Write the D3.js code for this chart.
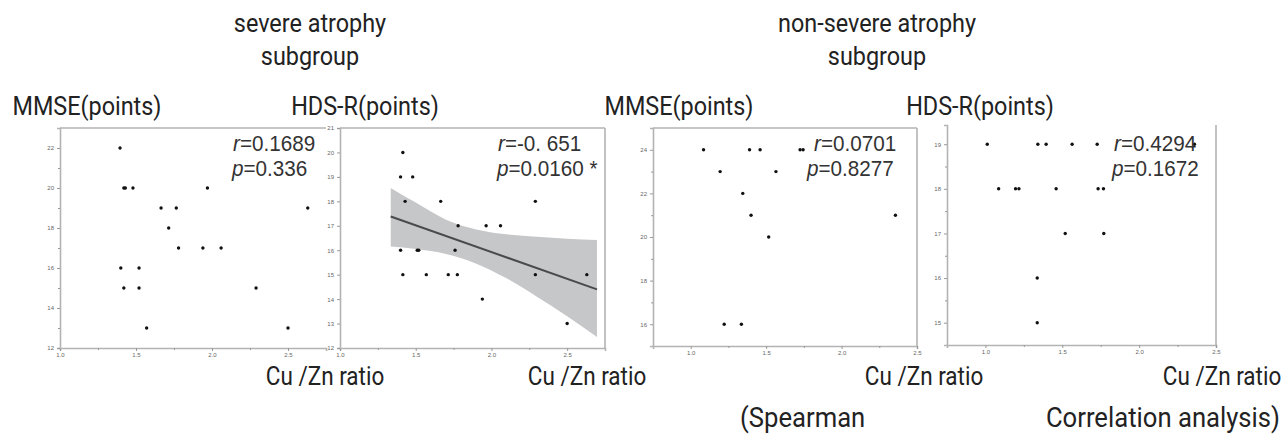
<!DOCTYPE html>
<html>
<head>
<meta charset="utf-8">
<script src="https://cdn.jsdelivr.net/npm/d3@7"></script>
<style>
  html, body { margin: 0; padding: 0; background: #fff; }
  svg { display: block; }
</style>
</head>
<body>
<svg id="chart" width="1287" height="442"></svg>
<script>
// ---------------- DATA ----------------
// Panel 1: severe atrophy, MMSE vs Cu/Zn
const sevMmseX = [1.395, 1.42, 1.43, 1.48, 1.97, 1.665, 1.765, 1.715, 1.78, 1.94, 2.06, 1.40, 1.52, 1.42, 1.52, 2.29, 2.63, 1.57, 2.50];
const sevMmseY = [22, 20, 20, 20, 20, 19, 19, 18, 17, 17, 17, 16, 16, 15, 15, 15, 19, 13, 13];
// Panel 2: severe atrophy, HDS-R vs Cu/Zn
const sevHdsX = [1.415, 1.40, 1.48, 1.43, 1.665, 2.29, 1.78, 1.965, 2.06, 1.40, 1.51, 1.52, 1.76, 1.415, 1.57, 1.715, 1.775, 2.29, 2.63, 1.94, 2.50];
const sevHdsY = [20, 19, 19, 18, 18, 18, 17, 17, 17, 16, 16, 16, 16, 15, 15, 15, 15, 15, 15, 14, 13];
// Regression line and confidence band (panel 2)
const fitX = [1.335, 2.697];
const fitY = [17.38, 14.40];
const bandX = [1.335, 1.5, 1.7, 1.9, 2.1, 2.3, 2.5, 2.697];
const bandUpper = [18.55, 17.95, 17.25, 16.85, 16.65, 16.55, 16.47, 16.42];
const bandLower = [16.15, 16.05, 15.85, 15.45, 14.85, 14.10, 13.30, 12.45];
// Panel 3: non-severe atrophy, MMSE vs Cu/Zn
const nonMmseX = [1.085, 1.39, 1.46, 1.725, 1.745, 1.195, 1.565, 1.345, 1.40, 2.357, 1.517, 1.222, 1.336];
const nonMmseY = [24, 24, 24, 24, 24, 23, 23, 22, 21, 21, 20, 16, 16];
// Panel 4: non-severe atrophy, HDS-R vs Cu/Zn
const nonHdsX = [1.012, 1.341, 1.395, 1.564, 1.727, 2.36, 1.086, 1.196, 1.218, 1.46, 1.733, 1.768, 1.519, 1.77, 1.337, 1.337];
const nonHdsY = [19, 19, 19, 19, 19, 19, 18, 18, 18, 18, 18, 18, 17, 17, 16, 15];

// Tick values / labels
const xTicks = [1.0, 1.5, 2.0, 2.5];
const xTickLabels = ["1.0", "1.5", "2.0", "2.5"];
const p1YTicks = [12, 14, 16, 18, 20, 22];
const p2YTicks = [12, 13, 14, 15, 16, 17, 18, 19, 20, 21];
const p3YTicks = [16, 18, 20, 22, 24];
const p4YTicks = [15, 16, 17, 18, 19];

// Texts
const groupTitles = [["severe atrophy", "subgroup"], ["non-severe atrophy", "subgroup"]];
const yTitles = ["MMSE(points)", "HDS-R(points)", "MMSE(points)", "HDS-R(points)"];
const xTitle = "Cu /Zn ratio";
const rValues = ["=0.1689", "=-0. 651", "=0.0701", "=0.4294"];
const pValues = ["=0.336", "=0.0160 *", "=0.8277", "=0.1672"];
const footnoteParts = ["(Spearman", "Correlation analysis)"];

// ---------------- LAYOUT ----------------
const svg = d3.select("#chart");
const FONT = "Roboto, 'Noto Sans', sans-serif";
const STATFONT = "'Liberation Sans', Arial, sans-serif";
const frameColor = "#b3b3b3";
const SX = 0.9; // horizontal condensing of large labels

function label(parent, x, y, anchor, size, sx, str, color, family) {
  const g = parent.append("g").attr("transform", `translate(${x},${y}) scale(${sx},1)`);
  return g.append("text").attr("x", 0).attr("y", 0).attr("text-anchor", anchor)
    .style("font-family", family || FONT).style("font-size", size + "px").style("white-space", "pre")
    .attr("fill", color || "#222").text(str);
}

const panels = [
  { xs: sevMmseX, ys: sevMmseY, xd: [1.0, 2.75], xr: [60, 326], yd: [12, 23], yr: [348, 128],
    yt: p1YTicks, yMinor: [13, 15, 17, 19, 21], xMinor: [1.25, 1.75, 2.25], sides: ["top"],
    statX: [233, 232], titleX: 87, xTitleX: 325 },
  { xs: sevHdsX, ys: sevHdsY, xd: [1.0, 2.75], xr: [340, 605], yd: [12, 21], yr: [348, 128],
    yt: p2YTicks, yMinor: [], xMinor: [1.25, 1.75, 2.25], sides: ["top", "right"],
    statX: [498, 497], titleX: 365, xTitleX: 587, fit: true },
  { xs: nonMmseX, ys: nonMmseY, xd: [0.75, 2.5], xr: [653, 917], yd: [15, 25], yr: [346, 128],
    yt: p3YTicks, yMinor: [17, 19, 21, 23], xMinor: [1.25, 1.75, 2.25], sides: ["top", "right"],
    statX: [814, 807], titleX: 679, xTitleX: 924 },
  { xs: nonHdsX, ys: nonHdsY, xd: [0.75, 2.5], xr: [947, 1216], yd: [14.5, 19.43], yr: [345, 125],
    yt: p4YTicks, yMinor: [15.5, 16.5, 17.5, 18.5], xMinor: [1.25, 1.75, 2.25], sides: ["right"],
    statX: [1114, 1112], titleX: 980, xTitleX: 1222 }
];

panels.forEach((p, i) => {
  const x = d3.scaleLinear().domain(p.xd).range(p.xr);
  const y = d3.scaleLinear().domain(p.yd).range(p.yr);
  const g = svg.append("g");

  if (p.fit) {
    const band = bandX.map((v, k) => ({ x: v, u: bandUpper[k], l: bandLower[k] }));
    const area = d3.area().x(d => x(d.x)).y0(d => y(d.l)).y1(d => y(d.u)).curve(d3.curveMonotoneX);
    g.append("path").datum(band).attr("d", area).attr("fill", "#c6c7c9");
    const line = d3.line().x(d => x(d[0])).y(d => y(d[1]));
    g.append("path").datum(fitX.map((v, k) => [v, fitY[k]])).attr("d", line)
      .attr("fill", "none").attr("stroke", "#4a4a4a").attr("stroke-width", 2);
  }

  const [x0, x1] = p.xr, [y0, y1] = p.yr;
  if (p.sides.includes("top"))
    g.append("line").attr("x1", x0).attr("x2", x1).attr("y1", y1).attr("y2", y1)
      .attr("stroke", frameColor).attr("stroke-width", 1.6);
  if (p.sides.includes("right"))
    g.append("line").attr("x1", x1).attr("x2", x1).attr("y1", y1).attr("y2", y0)
      .attr("stroke", frameColor).attr("stroke-width", 1.6);

  const xAxis = d3.axisBottom(x).tickValues(xTicks).tickFormat((d, k) => xTickLabels[k]).tickSize(3).tickPadding(2);
  const gx = g.append("g").attr("transform", `translate(0,${y0})`).call(xAxis);
  const gxm = g.append("g").attr("transform", `translate(0,${y0})`)
    .call(d3.axisBottom(x).tickValues(p.xMinor).tickFormat("").tickSize(2));
  const yAxis = d3.axisLeft(y).tickValues(p.yt).tickFormat(d3.format("d")).tickSize(3).tickPadding(3);
  const gy = g.append("g").attr("transform", `translate(${x0},0)`).call(yAxis);
  const gym = g.append("g").attr("transform", `translate(${x0},0)`)
    .call(d3.axisLeft(y).tickValues(p.yMinor).tickFormat("").tickSize(2));
  [gx, gxm, gy, gym].forEach(a => {
    a.select(".domain").attr("stroke", frameColor).attr("stroke-width", 1.6);
    a.selectAll(".tick line").attr("stroke", "#999");
    a.selectAll(".tick text").attr("fill", "#666").style("font-size", "6px").style("font-family", "Arial, sans-serif");
  });
  gxm.select(".domain").remove();
  gym.select(".domain").remove();

  g.selectAll("circle.pt").data(p.xs.map((v, k) => [v, p.ys[k]])).join("circle")
    .attr("class", "pt").attr("cx", d => x(d[0])).attr("cy", d => y(d[1])).attr("r", 1.7).attr("fill", "#111");

  // stats text
  const st = label(g, p.statX[0], 151, "start", 22, 0.94, null, "#333", STATFONT);
  st.append("tspan").style("font-style", "italic").text("r");
  st.append("tspan").text(rValues[i]);
  const sp = label(g, p.statX[1], 176, "start", 22, 0.94, null, "#333", STATFONT);
  sp.append("tspan").style("font-style", "italic").text("p");
  sp.append("tspan").text(pValues[i]);

  // axis titles
  label(svg, p.titleX, 115, "middle", 26, SX, yTitles[i]);
  label(svg, p.xTitleX, 385, "middle", 25, SX, xTitle);
});

// group titles
const titleCenters = [310, 877];
groupTitles.forEach((lines, k) => {
  lines.forEach((t, j) => {
    label(svg, titleCenters[k], 32 + j * 33, "middle", 26, SX, t);
  });
});

// footnote
label(svg, 740, 427, "start", 27, 0.95, footnoteParts[0]);
label(svg, 1280, 427, "end", 27, 0.95, footnoteParts[1]);
</script>
</body>
</html>
